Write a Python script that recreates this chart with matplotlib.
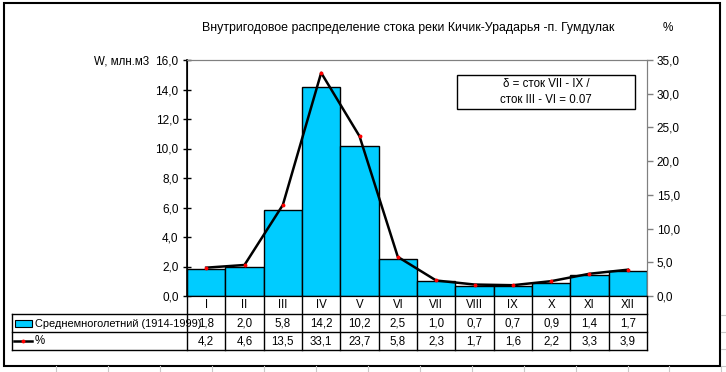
import matplotlib
matplotlib.use('Agg')
import matplotlib.pyplot as plt
from matplotlib.patches import Rectangle
from matplotlib.lines import Line2D
import numpy as np

plt.rcParams['font.family'] = ['Liberation Sans', 'DejaVu Sans']
plt.rcParams['font.size'] = 8.5

# Данные
months = ['I', 'II', 'III', 'IV', 'V', 'VI', 'VII', 'VIII', 'IX', 'X', 'XI', 'XII']
flow = [1.8, 2.0, 5.8, 14.2, 10.2, 2.5, 1.0, 0.7, 0.7, 0.9, 1.4, 1.7]
percent = [4.2, 4.6, 13.5, 33.1, 23.7, 5.8, 2.3, 1.7, 1.6, 2.2, 3.3, 3.9]
series_bar = 'Среднемноголетний (1914-1999)'
series_line = '%'
title = 'Внутригодовое распределение стока реки Кичик-Урадарья -п. Гумдулак'
note = 'δ = сток VII - IX /\nсток III - VI = 0.07'

W, H = 726, 372


def fx(x):
    return x / W


def fy(y):
    return 1 - y / H


def fmt(v):
    return f'{v:.1f}'.replace('.', ',')


fig = plt.figure(figsize=(W / 100, H / 100), dpi=100)

# фон: сетка листа Excel и рамка диаграммы
for y in [315, 332, 349, 366]:
    fig.add_artist(Line2D([fx(721), 1], [fy(y), fy(y)], color='#c8c8c8', lw=0.8))
for x in [56, 108, 160, 212, 264, 316, 368, 420, 472, 524, 576, 628, 669, 721]:
    fig.add_artist(Line2D([fx(x), fx(x)], [fy(366), 0], color='#c8c8c8', lw=0.8))
fig.add_artist(Rectangle((fx(4), fy(366)), fx(716), 363 / H, fill=False,
                         edgecolor='black', lw=1.5))

L, R, T, B = 187, 647, 60, 296
ax = fig.add_axes([fx(L), fy(B), fx(R - L), (B - T) / H])
x = np.arange(len(months))
ax.bar(x, flow, width=1.0, color='#00ccff', edgecolor='black', lw=1.0, zorder=2)
ax.set_xlim(-0.5, 11.5)
ax.set_ylim(0, 16)
ax.set_yticks(np.arange(0, 16.1, 2))
ax.set_yticklabels([fmt(v) for v in np.arange(0, 16.1, 2)])
ax.set_xticks([])
ax.tick_params(axis='y', direction='inout', length=6, width=1, pad=3)
for s in ['top', 'right']:
    ax.spines[s].set_color('#808080')
ax.spines['bottom'].set_color('black')
ax.spines['left'].set_color('black')
ax.spines['left'].set_linewidth(1.2)

ax2 = ax.twinx()
ax2.plot(x, percent, color='black', lw=1.8, marker='o', markersize=1.8,
         markerfacecolor='red', markeredgecolor='red', zorder=3)
ax2.set_ylim(0, 35)
ax2.set_yticks(np.arange(0, 35.1, 5))
ax2.set_yticklabels([fmt(v) for v in np.arange(0, 35.1, 5)])
ax2.tick_params(axis='y', direction='out', length=4, width=1, pad=3, color='#808080')
ax2.spines['right'].set_color('#808080')
ax2.spines['top'].set_color('#808080')

fig.text(fx(408), fy(28), title, ha='center', va='center', fontsize=8.9)
fig.text(fx(668), fy(28), '%', ha='center', va='center', fontsize=8.5)
fig.text(fx(149), fy(61), 'W, млн.м3', ha='right', va='center', fontsize=8.3)

fig.text(fx(546), fy(92), note, ha='center', va='center', fontsize=8.3,
         linespacing=1.5)
fig.add_artist(Rectangle((fx(457), fy(109)), fx(178), 34 / H, fill=False,
                         edgecolor='black', lw=1.0))

# таблица данных
col_w = (R - L) / 12
lc = 'black'
for i in range(13):
    xx = L + i * col_w
    fig.add_artist(Line2D([fx(xx), fx(xx)], [fy(296), fy(350)], color=lc, lw=1.0))
for yy in [314, 332, 350]:
    fig.add_artist(Line2D([fx(12), fx(R)], [fy(yy), fy(yy)], color=lc, lw=1.0))
fig.add_artist(Line2D([fx(12), fx(12)], [fy(314), fy(350)], color=lc, lw=1.0))

for i, m in enumerate(months):
    cx = L + (i + 0.5) * col_w
    fig.text(fx(cx), fy(305), m, ha='center', va='center', fontsize=8.3)
    fig.text(fx(cx), fy(323), fmt(flow[i]), ha='center', va='center', fontsize=8.3)
    fig.text(fx(cx), fy(341), fmt(percent[i]), ha='center', va='center', fontsize=8.3)

fig.add_artist(Rectangle((fx(15), fy(327)), fx(17), 7 / H, facecolor='#00ccff',
                         edgecolor='black', lw=0.8))
fig.text(fx(35), fy(324), series_bar, ha='left', va='center', fontsize=7.9)
fig.add_artist(Line2D([fx(14), fx(32)], [fy(341), fy(341)], color='black', lw=1.8))
fig.add_artist(Line2D([fx(23)], [fy(341)], color='red', marker='o', markersize=1.8,
                      markeredgecolor='red'))
fig.text(fx(35), fy(341), series_line, ha='left', va='center', fontsize=8.3)

fig.savefig('out.png', dpi=100)
